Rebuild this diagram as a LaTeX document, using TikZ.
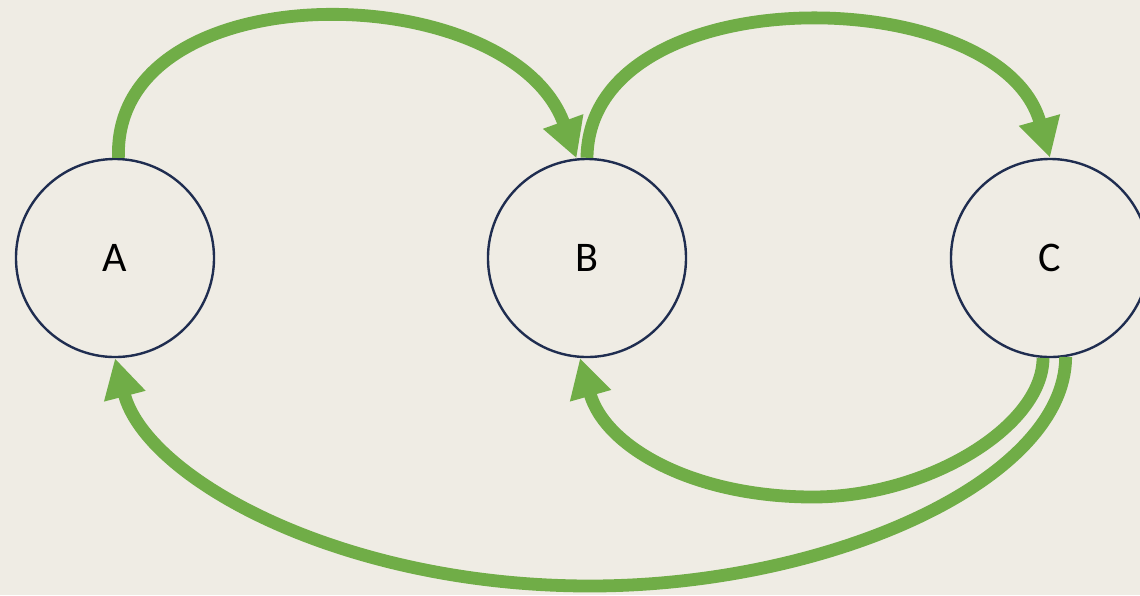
\documentclass[tikz,border=0pt]{standalone}
\usepackage{fontspec}
\setmainfont{Carlito}
\usetikzlibrary{arrows.meta}
\definecolor{fundo}{HTML}{EFECE4}
\definecolor{contorno}{HTML}{1F2D50}
\definecolor{verde}{HTML}{70AD47}
\begin{document}
\begin{tikzpicture}[x=0.025cm, y=-0.025cm]
\tikzset{
    >={Triangle[width=1cm, length=0.98cm]},
    estado/.style={circle, draw=contorno, line width=0.06cm, inner sep=0pt,
                   minimum size=4.95cm, font=\fontsize{30}{30}\selectfont},
    transicao/.style={->, line width=0.32cm, draw=verde}
}
\fill[fundo] (0,0) rectangle (1140,595);
\useasboundingbox (0,0) rectangle (1140,595);
\node[estado] (A) at (115,258)  {A};
\node[estado] (B) at (587,258)  {B};
\node[estado] (C) at (1050,258) {C};
% Arcos superiores
\draw[transicao] (A.88) .. controls (112,-30) and (510,-25) .. (B.96);
\draw[transicao] (B.north) .. controls (589,-25) and (1000,-20) .. (C.north);
% Arcos inferiores (saindo de C)
\draw[transicao] (C.-94) .. controls (1043,426) and (928,497) .. (813,497)
                 .. controls (693,497) and (605,447) .. (B.-94);
\draw[transicao] (C.-81) .. controls (1065,480) and (830,586) .. (590,586)
                 .. controls (340,586) and (146,478) .. (A.south);
\end{tikzpicture}
\end{document}
